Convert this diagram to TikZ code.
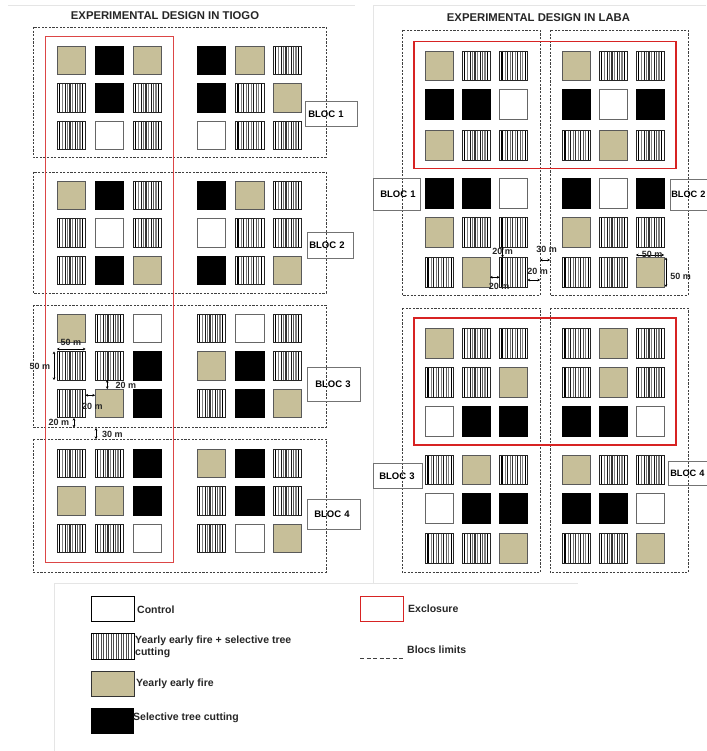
\documentclass[tikz,border=0pt]{standalone}
\usepackage{fontspec}
\setmainfont{Liberation Sans}
\usetikzlibrary{arrows.meta}
\definecolor{tanfill}{RGB}{199,191,153}
\definecolor{exred}{RGB}{215,35,35}
\definecolor{exredl}{RGB}{220,70,70}
\tikzset{
  sq/.style={anchor=north west, minimum width=28.5pt, minimum height=28.5pt, inner sep=0pt, outer sep=0pt, line width=0.8pt},
  sqr/.style={anchor=north west, minimum width=28pt, minimum height=29.5pt, inner sep=0pt, outer sep=0pt, line width=0.8pt},
  ctrl/.style={fill=white, draw=black!60},
  fire/.style={fill=tanfill, draw=black!65},
  cut/.style={fill=black, draw=black},
  both/.style={fill=white, draw=black!85, path picture={
      \foreach \ff/\ww/\cc in {2.5/1.2/black, 5.5/0.5/black!50, 8/0.9/black!90, 10.5/0.5/black!55, 13/1.2/black!80, 15.5/0.5/black!50, 18/1.0/black!90, 20.5/0.5/black!65, 23/1.4/black!50, 25.8/0.8/black}
        \draw[line width=\ww pt, draw=\cc] ([xshift=\ff pt]path picture bounding box.north west) -- ([xshift=\ff pt]path picture bounding box.south west);
  }},
  legboth/.style={fill=white, path picture={
      \foreach \ff in {2,4.5,...,41}
        \draw[line width=0.7pt, draw=black!70] ([xshift=\ff pt]path picture bounding box.north west) -- ([xshift=\ff pt]path picture bounding box.south west);
  }},
  bloc/.style={draw=black!75, dash pattern=on 2.2pt off 1.4pt, line width=0.75pt},
  tagbox/.style={draw=black!55, line width=0.6pt, anchor=north west, inner sep=0pt, align=left, font=\fontsize{9.5}{11}\selectfont\bfseries},
  dimtxt/.style={font=\fontsize{9}{10}\selectfont\bfseries, inner sep=0pt, text=black!85},
  dim/.style={{Stealth[length=2.6pt,width=2.8pt]}-{Stealth[length=2.6pt,width=2.8pt]}, line width=0.6pt},
  title/.style={font=\fontsize{11.3}{13}\selectfont\bfseries, inner sep=0pt, text=black!85},
  legtxt/.style={font=\fontsize{10.5}{12}\selectfont\bfseries, inner sep=0pt, anchor=west, align=left, text=black!85},
  faint/.style={draw=black!10, line width=1pt}
}
\newcommand\Lrow[3]{\foreach \ty [count=\idx] in {#3}{\pgfmathsetmacro\xx{{57,95,133,197,235.5,273}[\idx-1]}\node[sq,\ty] (#1-\idx) at (\xx,#2) {};}}
\newcommand\Rrow[3]{\foreach \ty [count=\idx] in {#3}{\pgfmathsetmacro\xx{{425.5,462,499.5,562.5,599,636}[\idx-1]}\node[sqr,\ty] (#1-\idx) at (\xx,#2) {};}}
\begin{document}
\begin{tikzpicture}[x=1pt,y=-1pt]
\useasboundingbox (0,0) rectangle (706,751);
% faint panel borders
\draw[faint] (8,6) -- (355,6);
\draw[faint] (373,6) -- (706,6);
\draw[faint] (373,6) -- (373,583);
\draw[faint] (578,583) -- (54,583) -- (54,751);
% titles
\node[title] (t1) at (165,16) {EXPERIMENTAL DESIGN IN TIOGO};
\node[title] (t2) at (538.5,18) {EXPERIMENTAL DESIGN IN LABA};
% ---------------- TIOGO ----------------
\Lrow{L1a}{46}{fire,cut,fire,cut,fire,both}
\Lrow{L1b}{83.5}{both,cut,both,cut,both,fire}
\Lrow{L1c}{121}{both,ctrl,both,ctrl,both,both}
\Lrow{L2a}{181}{fire,cut,both,cut,fire,both}
\Lrow{L2b}{218.5}{both,ctrl,both,ctrl,both,both}
\Lrow{L2c}{256}{both,cut,fire,cut,both,fire}
\Lrow{L3a}{314}{fire,both,ctrl,both,ctrl,both}
\Lrow{L3b}{351.5}{both,both,cut,fire,cut,both}
\Lrow{L3c}{389}{both,fire,cut,both,cut,fire}
\Lrow{L4a}{449}{both,both,cut,fire,cut,both}
\Lrow{L4b}{486.5}{fire,fire,cut,both,cut,both}
\Lrow{L4c}{524}{both,both,ctrl,both,ctrl,fire}
\draw[bloc] (33,27) rectangle (326,157);
\draw[bloc] (33,172) rectangle (326,293);
\draw[bloc] (33,305) rectangle (326,427);
\draw[bloc] (33,439) rectangle (326,572);
\draw[exredl, line width=1pt] (45,37) rectangle (173,562);
\node[tagbox, minimum width=52pt, minimum height=25pt, text width=52pt] (LT1) at (305,101) {\hspace*{3pt}BLOC 1};
\node[tagbox, minimum width=46pt, minimum height=26pt, text width=46pt] (LT2) at (307,232) {\hspace*{2pt}BLOC 2};
\node[tagbox, minimum width=53pt, minimum height=34pt, text width=53pt] (LT3) at (307,367) {\hspace*{8pt}BLOC 3};
\node[tagbox, minimum width=53pt, minimum height=30pt, text width=53pt] (LT4) at (307,499) {\hspace*{7pt}BLOC 4};
% dimensions TIOGO
\draw[dim] ([yshift=2.5pt]L3b-1.north west) -- ([yshift=2.5pt]L3b-1.north east);
\node[dimtxt] (d1) at (71,342) {50 m};
\draw[dim] ([xshift=-3pt]L3b-1.north west) -- ([xshift=-3pt]L3b-1.south west);
\node[dimtxt] (d2) at (40,366.7) {50 m};
\draw[dim] ([xshift=-2pt]L3b-2.south) -- ([xshift=-2pt]L3c-2.north);
\node[dimtxt] (d3) at (126,385) {20 m};
\draw[dim] ([yshift=8pt]L3c-1.east) -- ([yshift=8pt]L3c-2.west);
\node[dimtxt] (d4) at (92.5,406) {20 m};
\coordinate (c5a) at (74,418);
\coordinate (c5b) at (74,427.5);
\draw[dim] (c5a) -- (c5b);
\node[dimtxt] (d5) at (59,422) {20 m};
\coordinate (c6a) at (96,428);
\coordinate (c6b) at (96,439);
\draw[dim] (c6a) -- (c6b);
\node[dimtxt] (d6) at (112.5,434) {30 m};
% ---------------- LABA ----------------
\Rrow{R1a}{51}{fire,both,both,fire,both,both}
\Rrow{R1b}{89.5}{cut,cut,ctrl,cut,ctrl,cut}
\Rrow{R1c}{130.5}{fire,both,both,both,fire,both}
\Rrow{R1d}{178.5}{cut,cut,ctrl,cut,ctrl,cut}
\Rrow{R1e}{217.5}{fire,both,both,fire,both,both}
\Rrow{R1f}{257.5}{both,fire,both,both,both,fire}
\Rrow{R2a}{328.5}{fire,both,both,both,fire,both}
\Rrow{R2b}{367.5}{both,both,fire,both,fire,both}
\Rrow{R2c}{406.5}{ctrl,cut,cut,cut,cut,ctrl}
\Rrow{R2d}{455}{both,fire,both,fire,both,both}
\Rrow{R2e}{493.5}{ctrl,cut,cut,cut,cut,ctrl}
\Rrow{R2f}{533.5}{both,both,fire,both,both,fire}
\draw[bloc] (402,30) rectangle (540,295);
\draw[bloc] (550,30) rectangle (688,295);
\draw[bloc] (402,308) rectangle (540,572.5);
\draw[bloc] (550,308) rectangle (688,572.5);
\draw[exred, line width=1.3pt] (414,41.7) rectangle (676,168.3);
\draw[exred, line width=1.3pt] (414,318) rectangle (676,445);
\node[tagbox, minimum width=47pt, minimum height=32pt, text width=47pt] (RT1) at (373,178) {\hspace*{7pt}BLOC 1};
\node[tagbox, minimum width=44pt, minimum height=31pt, text width=44pt, font=\fontsize{9.2}{11}\selectfont\bfseries] (RT2) at (670,179) {\hspace*{1pt}BLOC 2};
\node[tagbox, minimum width=49pt, minimum height=25pt, text width=49pt] (RT3) at (373,463) {\hspace*{6pt}BLOC 3};
\node[tagbox, minimum width=44pt, minimum height=24pt, text width=44pt, font=\fontsize{9.2}{11}\selectfont\bfseries] (RT4) at (668,461) {\hspace*{2pt}BLOC 4};
% dimensions LABA
\draw[dim] ([xshift=3pt]R1e-3.south west) -- ([xshift=3pt]R1f-3.north west);
\node[dimtxt] (e1) at (502.5,251) {20 m};
\coordinate (k2a) at (540,260);
\coordinate (k2b) at (550,260);
\draw[dim] (k2a) -- (k2b);
\node[dimtxt] (e2) at (546.5,249) {30 m};
\coordinate (k3b) at (540,280);
\draw[dim] (R1f-3.east |- k3b) -- (k3b);
\node[dimtxt] (e3) at (537.5,271) {20 m};
\draw[dim] ([yshift=-5pt]R1f-2.east) -- ([yshift=-5pt]R1f-3.west);
\node[dimtxt] (e4) at (499,286) {20 m};
\draw[dim] ([yshift=2.5pt]R1f-6.north west) -- ([yshift=2.5pt]R1f-6.north east);
\node[dimtxt] (e5) at (652,254) {50 m};
\draw[dim] ([xshift=2pt]R1f-6.north east) -- ([xshift=2pt]R1f-6.south east);
\node[dimtxt] (e6) at (680.5,276) {50 m};
% ---------------- legend ----------------
\node[anchor=north west, minimum width=43pt, minimum height=25pt, inner sep=0pt, draw=black, line width=1.4pt, fill=white] (lg1) at (91,596) {};
\node[legtxt] (lt1) at (137,610) {Control};
\node[anchor=north west, minimum width=43pt, minimum height=26pt, inner sep=0pt, legboth, draw=black, line width=1.4pt] (lg2) at (91,633) {};
\node[legtxt] (lt2) at (135,647) {Yearly early fire + selective tree\\cutting};
\node[anchor=north west, minimum width=43pt, minimum height=25pt, inner sep=0pt, draw=black!80, line width=1.2pt, fill=tanfill] (lg3) at (91,671) {};
\node[legtxt] (lt3) at (136,684) {Yearly early fire};
\node[anchor=north west, minimum width=42pt, minimum height=25pt, inner sep=0pt, draw=black, fill=black] (lg4) at (91,708) {};
\node[legtxt] (lt4) at (133,718) {Selective tree cutting};
\node[anchor=north west, minimum width=43pt, minimum height=25pt, inner sep=0pt, draw=exred, line width=1.3pt] (lg5) at (360,596) {};
\node[legtxt] (lt5) at (408,609) {Exclosure};
\coordinate (lg6a) at (360,658);
\coordinate (lg6b) at (403,658);
\draw[black!75, dash pattern=on 4pt off 2.5pt, line width=0.9pt] (lg6a) -- (lg6b);
\node[legtxt] (lt6) at (407,650) {Blocs limits};
\end{tikzpicture}
\end{document}
